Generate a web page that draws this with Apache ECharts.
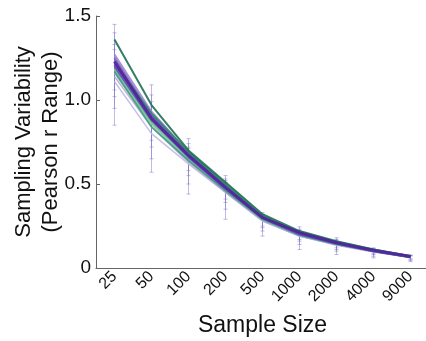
<!DOCTYPE html>
<html>
<head>
<meta charset="utf-8">
<script src="https://cdn.jsdelivr.net/npm/echarts@6/dist/echarts.min.js"></script>
<style>
  html, body { margin: 0; padding: 0; background: #fff; }
  #chart { width: 426px; height: 341px; }
</style>
</head>
<body>
<div id="chart"></div>
<script>
const chart = echarts.init(document.getElementById("chart"));

// ==========================
// DATA
// ==========================

const sampleSizes = ["25", "50", "100", "200", "500", "1000", "2000", "4000", "9000"];
const yTicks = [0, 0.5, 1.0, 1.5];

// one entry per dataset line
const lineNames = ["L1", "L2", "L3", "L4", "L5", "L6", "L7", "L8", "L9", "L10", "L11", "L12", "L13"];
const lineColors = [
  "#c0b8e4", "#b4acdc", "#9fb0d8", "#86cf9a", "#6cbf86",
  "#3f9f7e", "#9a86d0", "#7b5cc2", "#6a48b8", "#2a8a66",
  "#1f6f55", "#7050c0", "#4f2499"
];
const lineWidths = [1.5, 1.5, 1.5, 1.8, 1.8, 1.8, 2, 2, 2, 2, 2, 2.5, 3];
const lineValues = [
  [1.11, 0.80, 0.62, 0.45, 0.28, 0.19, 0.135, 0.095, 0.063],
  [1.14, 0.84, 0.63, 0.45, 0.28, 0.19, 0.138, 0.097, 0.063],
  [1.16, 0.86, 0.64, 0.46, 0.285, 0.19, 0.14, 0.098, 0.064],
  [1.18, 0.86, 0.65, 0.47, 0.29, 0.20, 0.142, 0.10, 0.065],
  [1.19, 0.87, 0.66, 0.48, 0.30, 0.20, 0.145, 0.10, 0.066],
  [1.17, 0.84, 0.64, 0.46, 0.29, 0.195, 0.14, 0.10, 0.064],
  [1.27, 0.93, 0.69, 0.49, 0.305, 0.21, 0.15, 0.104, 0.068],
  [1.25, 0.91, 0.68, 0.49, 0.305, 0.205, 0.15, 0.105, 0.067],
  [1.20, 0.88, 0.66, 0.47, 0.30, 0.20, 0.145, 0.10, 0.066],
  [1.22, 0.92, 0.69, 0.50, 0.31, 0.21, 0.155, 0.11, 0.07],
  [1.36, 0.97, 0.70, 0.51, 0.32, 0.22, 0.16, 0.11, 0.072],
  [1.21, 0.90, 0.67, 0.48, 0.30, 0.205, 0.148, 0.103, 0.067],
  [1.23, 0.89, 0.67, 0.48, 0.30, 0.21, 0.15, 0.105, 0.068]
];

// error bar ranges (several overlapping sets)
const errHigh = [
  [1.45, 1.09, 0.77, 0.55, 0.33, 0.245, 0.18, 0.12, 0.078],
  [1.40, 1.03, 0.74, 0.53, 0.32, 0.23, 0.17, 0.115, 0.075],
  [1.33, 0.99, 0.72, 0.52, 0.315, 0.22, 0.165, 0.112, 0.073],
  [1.30, 0.96, 0.71, 0.51, 0.31, 0.215, 0.16, 0.11, 0.072]
];
const errLow = [
  [0.85, 0.57, 0.44, 0.29, 0.19, 0.11, 0.08, 0.06, 0.038],
  [0.95, 0.65, 0.50, 0.35, 0.22, 0.14, 0.10, 0.07, 0.045],
  [1.02, 0.72, 0.55, 0.39, 0.24, 0.16, 0.11, 0.08, 0.05],
  [1.06, 0.76, 0.58, 0.41, 0.25, 0.17, 0.12, 0.085, 0.055]
];

// ==========================
// SERIES
// ==========================

function errorSeries(lo, hi) {
  return {
    type: "custom",
    silent: true,
    z: 1,
    data: sampleSizes.map((_, i) => [i, lo[i], hi[i]]),
    renderItem: (params, api) => {
      const x = api.value(0);
      const a = api.coord([x, api.value(1)]);
      const b = api.coord([x, api.value(2)]);
      const c = 2;
      const style = { stroke: "rgba(130,120,200,0.5)", lineWidth: 1 };
      return {
        type: "group",
        children: [
          { type: "line", shape: { x1: a[0], y1: a[1], x2: b[0], y2: b[1] }, style },
          { type: "line", shape: { x1: a[0] - c, y1: a[1], x2: a[0] + c, y2: a[1] }, style },
          { type: "line", shape: { x1: b[0] - c, y1: b[1], x2: b[0] + c, y2: b[1] }, style }
        ]
      };
    }
  };
}

const series = [];
errHigh.forEach((hi, k) => series.push(errorSeries(errLow[k], hi)));
lineValues.forEach((vals, k) => {
  series.push({
    name: lineNames[k],
    type: "line",
    data: vals,
    symbol: "none",
    z: 2 + k,
    lineStyle: { color: lineColors[k], width: lineWidths[k], opacity: 0.9 }
  });
});

// ==========================
// OPTIONS
// ==========================

const FONT = "Liberation Sans";

chart.setOption({
  animation: false,
  grid: { left: 96, top: 16, width: 333, height: 252, outerBoundsMode: "none" },
  xAxis: {
    type: "category",
    data: sampleSizes,
    name: "Sample Size",
    nameLocation: "middle",
    nameGap: 46,
    nameTextStyle: { fontFamily: FONT, fontSize: 23, color: "#111" },
    axisLine: { lineStyle: { color: "#666", width: 1 } },
    axisTick: { inside: true, alignWithLabel: true, length: 4, lineStyle: { color: "#666" } },
    axisLabel: { rotate: 45, fontFamily: FONT, fontSize: 16, color: "#111", margin: 6 }
  },
  yAxis: {
    type: "value",
    min: 0,
    max: 1.5,
    interval: 0.5,
    name: "Sampling Variability\n(Pearson r Range)",
    nameLocation: "middle",
    nameGap: 32,
    nameMoveOverlap: false,
    nameTextStyle: { fontFamily: FONT, fontSize: 22, color: "#111", lineHeight: 27 },
    splitLine: { show: false },
    axisLine: { show: true, lineStyle: { color: "#666", width: 1 } },
    axisTick: { show: true, inside: true, length: 4, lineStyle: { color: "#666" } },
    axisLabel: {
      fontFamily: FONT,
      fontSize: 19,
      color: "#111",
      margin: 5,
      formatter: v => (v === 0 ? "0" : yTicks.includes(v) ? v.toFixed(1) : "")
    }
  },
  series: series
});
</script>
</body>
</html>
